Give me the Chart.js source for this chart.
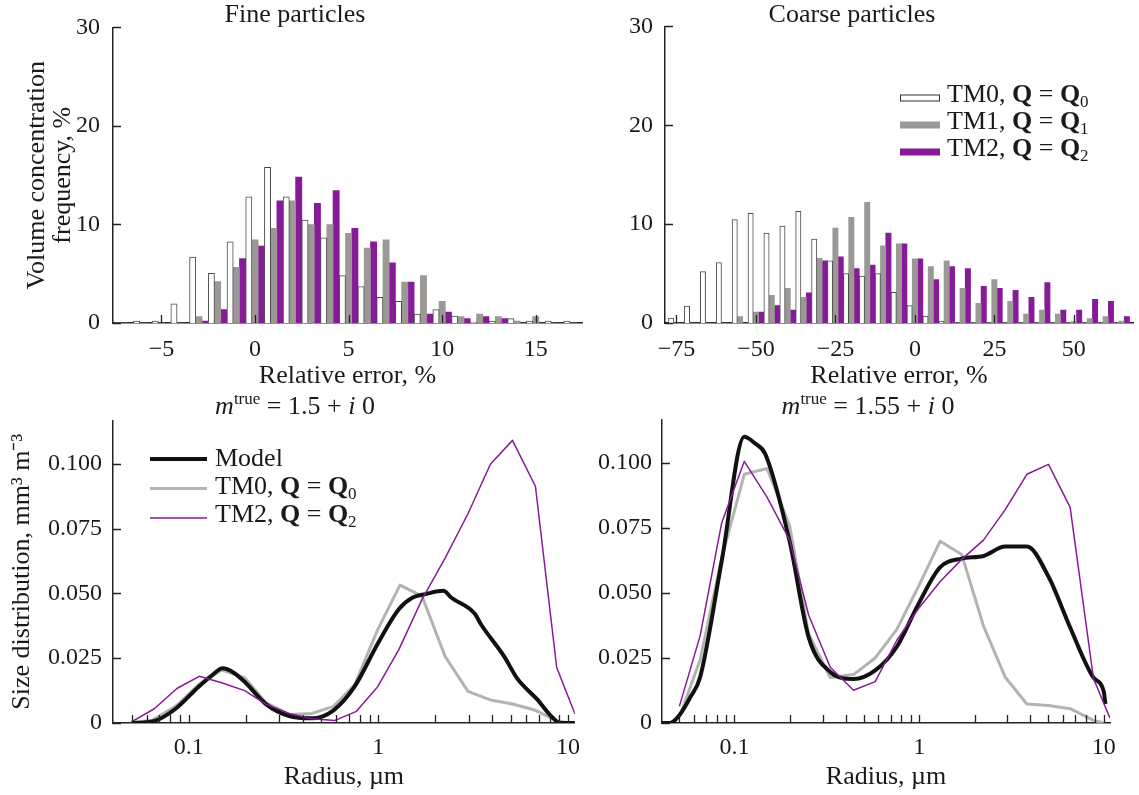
<!DOCTYPE html>
<html lang="en">
<head>
<meta charset="UTF-8" />
<title>Relative error and size distribution</title>
<script src="https://cdn.jsdelivr.net/npm/chart.js"></script>
<style>
  body { margin: 0; background: #fff; }
  .panel { position: absolute; }
</style>
</head>
<body>
<div class="panel" style="left:0;top:0;width:590px;height:395px"><canvas id="fineHist"></canvas></div>
<div class="panel" style="left:590px;top:0;width:549px;height:395px"><canvas id="coarseHist"></canvas></div>
<div class="panel" style="left:0;top:395px;width:590px;height:400px"><canvas id="fineSize"></canvas></div>
<div class="panel" style="left:590px;top:395px;width:549px;height:400px"><canvas id="coarseSize"></canvas></div>

<script>
// ---- histogram data (relative error bins, %) ----
const fineBins = [-7, -6, -5, -4, -3, -2, -1, 0, 1, 2, 3, 4, 5, 6, 7, 8, 9, 10, 11, 12, 13, 14, 15, 16, 17];
const fineTM0 = [0, 0.2, 0.2, 1.95, 6.7, 5.05, 8.25, 12.8, 15.8, 12.8, 10.45, 8.65, 4.8, 3.7, 2.6, 2.2, 0.9, 1.35, 0.7, 0.1, 0.2, 0.45, 0.2, 0.2, 0.2];
const fineTM1 = [0, 0, 0, 0, 0.65, 4.2, 5.65, 8.45, 9.6, 12.4, 10.0, 10.0, 9.1, 7.6, 8.45, 4.15, 4.8, 2.2, 0.65, 0.9, 0.65, 0.2, 0.65, 0, 0];
const fineTM2 = [0, 0, 0, 0, 0.2, 1.35, 6.55, 7.8, 12.4, 14.8, 12.15, 13.45, 9.6, 8.25, 6.1, 4.15, 0.9, 1.1, 0.45, 0.65, 0.45, 0, 0, 0, 0];

const coarseBins = [-75, -70, -65, -60, -55, -50, -45, -40, -35, -30, -25, -20, -15, -10, -5, 0, 5, 10, 15, 20, 25, 30, 35, 40, 45, 50, 55, 60, 65];
const coarseTM0 = [0.5, 1.7, 5.2, 6.1, 10.45, 11.1, 9.1, 9.8, 11.3, 8.5, 6.3, 5.0, 4.75, 5.0, 3.1, 1.75, 0.7, 0.2, 0, 0, 0, 0, 0, 0, 0, 0, 0, 0, 0];
const coarseTM1 = [0, 0, 0, 0, 0.65, 1.1, 2.8, 3.5, 2.6, 6.55, 9.6, 10.7, 12.2, 7.8, 8.0, 6.5, 5.7, 6.3, 3.5, 2.0, 4.4, 2.2, 0.9, 1.3, 0.9, 0.15, 0.45, 0.65, 0.2];
const coarseTM2 = [0, 0, 0, 0, 0, 1.1, 1.75, 1.3, 3.05, 6.3, 6.7, 5.5, 5.85, 9.1, 8.0, 6.5, 4.4, 5.7, 5.5, 3.7, 3.5, 3.3, 2.6, 4.1, 1.3, 1.3, 2.4, 2.2, 0.65];

const histTicksY = [0, 10, 20, 30];
const fineTicksX = [-5, 0, 5, 10, 15];
const coarseTicksX = [-75, -50, -25, 0, 25, 50];

// ---- size distributions, fine particles (m = 1.5 + i0) ----
const fineModelR = [0.0498, 0.0645, 0.0852, 0.113, 0.132, 0.151, 0.171, 0.197, 0.255, 0.338, 0.447, 0.58, 0.75, 0.992, 1.285, 1.51, 1.77, 2.20, 2.43, 3.22, 3.49, 4.61, 5.41, 6.87, 8.22, 9.08, 10.9];
const fineModelV = [0, 0.0006, 0.0055, 0.0141, 0.0183, 0.0211, 0.0196, 0.0159, 0.0073, 0.0027, 0.0018, 0.0049, 0.0141, 0.0306, 0.044, 0.0483, 0.0497, 0.051, 0.0483, 0.0422, 0.0379, 0.0257, 0.0171, 0.0092, 0.0024, 0, 0];
const fineTM0R = [0.0498, 0.0645, 0.0852, 0.113, 0.149, 0.197, 0.255, 0.338, 0.447, 0.58, 0.75, 0.992, 1.30, 1.70, 2.25, 2.97, 3.90, 5.10, 6.74, 8.73, 10.2];
const fineTM0V = [0, 0.0012, 0.0064, 0.0149, 0.0204, 0.0175, 0.0079, 0.0033, 0.0037, 0.0064, 0.0147, 0.036, 0.0532, 0.0489, 0.0257, 0.0122, 0.0089, 0.0073, 0.0049, 0.0009, 0];
const fineTM2R = [0.0498, 0.0657, 0.0869, 0.1135, 0.149, 0.197, 0.255, 0.338, 0.447, 0.591, 0.766, 0.992, 1.285, 1.70, 2.25, 2.97, 3.90, 5.10, 6.74, 8.73, 10.9];
const fineTM2V = [0.0004, 0.0055, 0.0134, 0.018, 0.0155, 0.0125, 0.0073, 0.0037, 0.0016, 0.001, 0.0045, 0.014, 0.0284, 0.0477, 0.0636, 0.0807, 0.0998, 0.109, 0.0913, 0.0214, 0.0035];

// ---- size distributions, coarse particles (m = 1.55 + i0) ----
const coarseModelR = [0.0405, 0.0449, 0.0503, 0.0575, 0.0652, 0.0853, 0.113, 0.129, 0.147, 0.199, 0.252, 0.330, 0.441, 0.578, 0.757, 0.992, 1.30, 1.70, 2.23, 2.92, 3.83, 5.02, 6.57, 8.79, 9.98, 10.2];
const coarseModelV = [0, 0, 0.003, 0.0098, 0.0177, 0.0623, 0.110, 0.1075, 0.1033, 0.0697, 0.033, 0.0196, 0.0169, 0.0202, 0.0293, 0.0458, 0.0599, 0.0632, 0.0642, 0.0678, 0.0678, 0.0562, 0.0367, 0.0174, 0.0122, 0.0073];
const coarseTM0R = [0.0449, 0.0508, 0.0652, 0.0853, 0.113, 0.150, 0.199, 0.252, 0.330, 0.441, 0.578, 0.757, 0.992, 1.30, 1.70, 2.23, 2.92, 3.83, 5.02, 6.57, 8.79, 9.98];
const coarseTM0V = [0, 0.003, 0.0244, 0.0636, 0.0956, 0.0978, 0.0758, 0.0342, 0.0175, 0.0186, 0.025, 0.036, 0.0525, 0.0699, 0.0648, 0.0373, 0.0177, 0.0073, 0.0067, 0.0055, 0.001, 0];
const coarseTM2R = [0.0503, 0.0652, 0.0853, 0.113, 0.150, 0.199, 0.252, 0.330, 0.441, 0.578, 0.757, 0.992, 1.30, 1.70, 2.23, 2.92, 3.83, 5.02, 6.57, 8.79, 10.8];
const coarseTM2V = [0.0064, 0.0336, 0.077, 0.1006, 0.0868, 0.0703, 0.0415, 0.0214, 0.0126, 0.0159, 0.0318, 0.044, 0.0544, 0.0629, 0.0703, 0.0819, 0.0956, 0.0994, 0.0829, 0.0171, 0.0018];

const sizeTicksY = [0, 0.025, 0.05, 0.075, 0.1];
const radiusTicks = [0.05, 0.06, 0.07, 0.08, 0.09, 0.1, 0.2, 0.3, 0.4, 0.5, 0.6, 0.7, 0.8, 0.9, 1, 2, 3, 4, 5, 6, 7, 8, 9, 10];
const radiusLabeled = [0.1, 1, 10];
const radiusLabelText = ["0.1", "1", "10"];

const PURPLE = "#861a98";
const GRAY_BAR = "#9b9896";
const GRAY_LINE = "#b3b3b3";
const FONT = '"Liberation Serif", "Times New Roman", serif';

Chart.defaults.font.family = FONT;
Chart.defaults.color = "#1a1a1a";

function pairs(xs, ys) {
  return xs.map((x, i) => ({ x: x, y: ys[i] }));
}

// text with bold / italic / sub / sup pieces
function drawRich(ctx, segs, x, y, size, align) {
  const fontFor = (s) =>
    (s.i ? "italic " : "") + (s.b ? "bold " : "") +
    Math.round(s.sub || s.sup ? size * 0.66 : size) + "px " + FONT;
  let w = 0;
  segs.forEach((s) => { ctx.font = fontFor(s); w += ctx.measureText(s.t).width; });
  let cx = align === "center" ? x - w / 2 : x;
  ctx.textAlign = "left";
  ctx.textBaseline = "alphabetic";
  ctx.fillStyle = "#1a1a1a";
  segs.forEach((s) => {
    ctx.font = fontFor(s);
    const dy = s.sub ? size * 0.2 : s.sup ? -size * 0.38 : 0;
    ctx.fillText(s.t, cx, y + dy);
    cx += ctx.measureText(s.t).width;
  });
}

// inward tick marks, panel texts and hand-made legends
const decor = {
  id: "decor",
  afterDatasetsDraw(chart, args, opts) {
    const ctx = chart.ctx;
    const { left, bottom } = chart.chartArea;
    const xs = chart.scales.x, ys = chart.scales.y;
    ctx.save();
    ctx.strokeStyle = "#222";
    ctx.lineWidth = 1.3;
    ctx.beginPath();
    xs.ticks.forEach((t) => {
      const px = Math.round(xs.getPixelForValue(t.value)) + 0.5;
      ctx.moveTo(px, bottom);
      ctx.lineTo(px, bottom - 8);
    });
    ys.ticks.forEach((t) => {
      const py = Math.round(ys.getPixelForValue(t.value)) + 0.5;
      ctx.moveTo(left, py);
      ctx.lineTo(left + 8, py);
    });
    ctx.stroke();

    (opts.legend || []).forEach((it) => {
      if (it.kind === "box") {
        ctx.fillStyle = it.fill;
        ctx.fillRect(it.x, it.y - 3.5, 40, 7);
        if (it.stroke) {
          ctx.strokeStyle = it.stroke;
          ctx.lineWidth = 1;
          ctx.strokeRect(it.x + 0.5, it.y - 3, 39, 6);
        }
      } else {
        ctx.strokeStyle = it.color;
        ctx.lineWidth = it.width;
        ctx.beginPath();
        ctx.moveTo(it.x, it.y);
        ctx.lineTo(it.x + 57, it.y);
        ctx.stroke();
      }
      drawRich(ctx, it.segs, it.tx, it.ty, 26, "left");
    });
    (opts.texts || []).forEach((t) => drawRich(ctx, t.segs, t.x, t.y, 26, "center"));
    ctx.restore();
  },
};

const minus = (v) => String(v).replace("-", "\u2212");
const fixTicks = (arr) => (scale) => { scale.ticks = arr.map((v) => ({ value: v })); };
const outlineIfTall = (c) => (c.raw && c.raw.y > 0 ? 1 : 0);

const tm0Segs = [{ t: "TM0, " }, { t: "Q", b: 1 }, { t: " = " }, { t: "Q", b: 1 }, { t: "0", sub: 1 }];
const tm1Segs = [{ t: "TM1, " }, { t: "Q", b: 1 }, { t: " = " }, { t: "Q", b: 1 }, { t: "1", sub: 1 }];
const tm2Segs = [{ t: "TM2, " }, { t: "Q", b: 1 }, { t: " = " }, { t: "Q", b: 1 }, { t: "2", sub: 1 }];

function histChart(id, bins, v0, v1, v2, xMin, xMax, ticksX, opt) {
  return new Chart(document.getElementById(id), {
    type: "bar",
    data: {
      datasets: [
        { label: "TM0", data: pairs(bins, v0), backgroundColor: "#fff", borderColor: "#4a4a4a", borderWidth: outlineIfTall },
        { label: "TM1", data: pairs(bins, v1), backgroundColor: GRAY_BAR, borderWidth: 0 },
        { label: "TM2", data: pairs(bins, v2), backgroundColor: PURPLE, borderWidth: 0 },
      ],
    },
    plugins: [decor],
    options: {
      animation: false,
      responsive: true,
      maintainAspectRatio: false,
      events: [],
      layout: { padding: { top: 17, right: opt.padRight, left: 0, bottom: 0 } },
      datasets: { bar: { categoryPercentage: 1, barPercentage: 1 } },
      plugins: {
        legend: { display: false },
        tooltip: { enabled: false },
        decor: { texts: opt.texts, legend: opt.legend },
      },
      scales: {
        x: {
          type: "linear",
          min: xMin,
          max: xMax,
          offset: false,
          afterBuildTicks: fixTicks(ticksX),
          afterFit: (s) => { s.height = 72; },
          grid: { display: false, drawTicks: false },
          border: { display: true, color: "#222", width: 1.5 },
          ticks: { font: { size: 24 }, padding: 12, maxRotation: 0, callback: minus },
          title: { display: true, text: "Relative error, %", font: { size: 26, lineHeight: 1 }, padding: { bottom: 6, top: 0 } },
        },
        y: {
          min: 0,
          max: 30,
          afterBuildTicks: fixTicks(histTicksY),
          afterFit: (s) => { s.width = opt.yWidth; },
          grid: { display: false, drawTicks: false },
          border: { display: true, color: "#222", width: 1.5 },
          ticks: { font: { size: 24 }, padding: opt.yPad },
          title: opt.yTitle
            ? { display: true, text: opt.yTitle, font: { size: 26, lineHeight: 1 }, padding: { top: 24, bottom: 0 } }
            : { display: false },
        },
      },
    },
  });
}

function sizeChart(id, series, xMin, xMax, opt) {
  return new Chart(document.getElementById(id), {
    type: "line",
    data: {
      datasets: [
        { label: "Model", data: pairs(series.modelR, series.modelV), borderColor: "#111", borderWidth: 4, cubicInterpolationMode: "monotone", order: 1 },
        { label: "TM0", data: pairs(series.tm0R, series.tm0V), borderColor: GRAY_LINE, borderWidth: 3, order: 2 },
        { label: "TM2", data: pairs(series.tm2R, series.tm2V), borderColor: PURPLE, borderWidth: 1.5, order: 0 },
      ],
    },
    plugins: [decor],
    options: {
      animation: false,
      responsive: true,
      maintainAspectRatio: false,
      events: [],
      layout: { padding: { top: 10, right: opt.padRight, left: 0, bottom: 0 } },
      elements: { point: { radius: 0 }, line: { tension: 0, borderJoinStyle: "round" } },
      plugins: {
        legend: { display: false },
        tooltip: { enabled: false },
        decor: { texts: opt.texts, legend: opt.legend },
      },
      scales: {
        x: {
          type: "logarithmic",
          min: xMin,
          max: xMax,
          afterBuildTicks: fixTicks(radiusTicks),
          afterFit: (s) => { s.height = 72; },
          grid: { display: false, drawTicks: false },
          border: { display: true, color: "#222", width: 1.5 },
          ticks: {
            font: { size: 24 },
            padding: 10,
            maxRotation: 0,
            autoSkip: false,
            callback: (v) => {
              const i = radiusLabeled.indexOf(v);
              return i >= 0 ? radiusLabelText[i] : "";
            },
          },
          title: { display: true, text: "Radius, \u00b5m", font: { size: 26, lineHeight: 1 }, padding: { bottom: 5, top: 0 } },
        },
        y: {
          min: 0,
          max: 0.1167,
          afterBuildTicks: fixTicks(sizeTicksY),
          afterFit: (s) => { s.width = opt.yWidth; },
          grid: { display: false, drawTicks: false },
          border: { display: true, color: "#222", width: 1.5 },
          ticks: { font: { size: 24 }, padding: opt.yPad, callback: (v) => (v === 0 ? "0" : v.toFixed(3)) },
          title: opt.yTitle
            ? { display: true, text: opt.yTitle, font: { size: 26, lineHeight: 1 }, padding: { top: 9, bottom: 0 } }
            : { display: false },
        },
      },
    },
  });
}

histChart("fineHist", fineBins, fineTM0, fineTM1, fineTM2, -7.59, 17.47, fineTicksX, {
  padRight: 8, yWidth: 113, yPad: 13,
  yTitle: ["Volume concentration", "frequency, %"],
  texts: [{ x: 295, y: 22, segs: [{ t: "Fine particles" }] }],
});

histChart("coarseHist", coarseBins, coarseTM0, coarseTM1, coarseTM2, -78.6, 68.6, coarseTicksX, {
  padRight: 6, yWidth: 75, yPad: 12,
  texts: [{ x: 262, y: 22, segs: [{ t: "Coarse particles" }] }],
  legend: [
    { kind: "box", x: 310, y: 98, fill: "#fff", stroke: "#333", tx: 357, ty: 102, segs: tm0Segs },
    { kind: "box", x: 310, y: 125, fill: GRAY_BAR, tx: 357, ty: 129, segs: tm1Segs },
    { kind: "box", x: 310, y: 152, fill: PURPLE, tx: 357, ty: 156, segs: tm2Segs },
  ],
});

sizeChart("fineSize", {
  modelR: fineModelR, modelV: fineModelV, tm0R: fineTM0R, tm0V: fineTM0V, tm2R: fineTM2R, tm2V: fineTM2V,
}, 0.0398, 10.87, {
  padRight: 8, yWidth: 113, yPad: 11,
  yTitle: "Size distribution, mm\u00b3 m\u207b\u00b3",
  texts: [{ x: 295, y: 19, segs: [{ t: "m", i: 1 }, { t: "true", sup: 1 }, { t: " = 1.5 + " }, { t: "i", i: 1 }, { t: " 0" }] }],
  legend: [
    { kind: "line", x: 150, y: 64, color: "#111", width: 4, tx: 215, ty: 71, segs: [{ t: "Model" }] },
    { kind: "line", x: 150, y: 93.5, color: GRAY_LINE, width: 3, tx: 215, ty: 99, segs: tm0Segs },
    { kind: "line", x: 150, y: 123, color: PURPLE, width: 1.5, tx: 215, ty: 127, segs: tm2Segs },
  ],
});

sizeChart("coarseSize", {
  modelR: coarseModelR, modelV: coarseModelV, tm0R: coarseTM0R, tm0V: coarseTM0V, tm2R: coarseTM2R, tm2V: coarseTM2V,
}, 0.0405, 10.8, {
  padRight: 29, yWidth: 72, yPad: 10,
  texts: [{ x: 278, y: 19, segs: [{ t: "m", i: 1 }, { t: "true", sup: 1 }, { t: " = 1.55 + " }, { t: "i", i: 1 }, { t: " 0" }] }],
});
</script>
</body>
</html>
